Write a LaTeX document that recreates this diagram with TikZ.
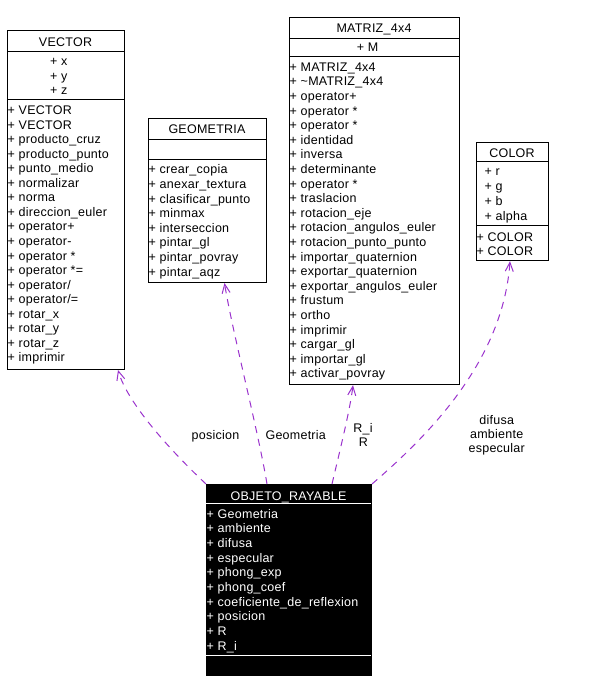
\documentclass[tikz,border=0pt]{standalone}
\usepackage{fontspec}
\setmainfont{Liberation Sans}
\newfontfamily\dfont[LetterSpace=2]{Liberation Sans}
\usetikzlibrary{arrows.meta,calc}
\definecolor{usecol}{HTML}{9A32CD}
\tikzset{
  clsbox/.style={draw=black, line width=1pt, inner sep=0pt, anchor=north west},
  objbox/.style={draw=black, fill=black, line width=1pt, inner sep=0pt, anchor=north west},
  sepline/.style={line width=1pt},
  mtxt/.style={anchor=base west, inner sep=0pt, font=\dfont\fontsize{12.5}{14.6}\selectfont},
  ttxt/.style={anchor=base, inner sep=0pt, font=\dfont\fontsize{12.5}{14.6}\selectfont},
  uses/.style={draw=usecol, line width=1pt, dash pattern=on 7pt off 6pt, -{Straight Barb[length=9pt,width=8pt]}},
  lbl/.style={anchor=base, inner sep=0pt, font=\dfont\fontsize{12.5}{14}\selectfont}
}
\begin{document}
\begin{tikzpicture}[x=1pt,y=-1pt]
\useasboundingbox (0,0) rectangle (588,692);

% ---------- VECTOR ----------
\node[clsbox, minimum width=117pt, minimum height=338.5pt] (vec) at (7,30.5) {};
\node[ttxt] (vect) at (65.5,46.7) {VECTOR};
\draw[sepline] (7,52) -- (124,52);
\foreach \t [count=\i from 0] in {x,y,z}
  \node[mtxt] (veca\i) at (50,{65.5+14.7*\i}) {+ \t};
\draw[sepline] (7,99.8) -- (124,99.8);
\foreach \t [count=\i from 0] in {VECTOR,VECTOR,producto\_cruz,producto\_punto,punto\_medio,normalizar,norma,direccion\_euler,operator+,operator-,operator *,operator *=,operator/,operator/=,rotar\_x,rotar\_y,rotar\_z,imprimir}
  \node[mtxt] (vecm\i) at (7.5,{115+14.5*\i}) {+ \t};

% ---------- GEOMETRIA ----------
\node[clsbox, minimum width=118pt, minimum height=164pt] (geo) at (148,118) {};
\node[ttxt] (geot) at (207,134) {GEOMETRIA};
\draw[sepline] (148,139.7) -- (266,139.7);
\draw[sepline] (148,159.2) -- (266,159.2);
\foreach \t [count=\i from 0] in {crear\_copia,anexar\_textura,clasificar\_punto,minmax,interseccion,pintar\_gl,pintar\_povray,pintar\_aqz}
  \node[mtxt] (geom\i) at (148.5,{174+14.6*\i}) {+ \t};

% ---------- MATRIZ_4x4 ----------
\node[clsbox, minimum width=170pt, minimum height=367.5pt] (mat) at (289,16.7) {};
\node[ttxt] (matt) at (374,32.7) {MATRIZ\_4x4};
\draw[sepline] (289,38.3) -- (459,38.3);
\node[mtxt] (mata0) at (356.7,51.2) {+ M};
\draw[sepline] (289,56.7) -- (459,56.7);
\foreach \t [count=\i from 0] in {MATRIZ\_4x4,\textasciitilde MATRIZ\_4x4,operator+,operator *,operator *,identidad,inversa,determinante,operator *,traslacion,rotacion\_eje,rotacion\_angulos\_euler,rotacion\_punto\_punto,importar\_quaternion,exportar\_quaternion,exportar\_angulos\_euler,frustum,ortho,imprimir,cargar\_gl,importar\_gl,activar\_povray}
  \node[mtxt] (matm\i) at (289.5,{71.3+14.6*\i}) {+ \t};

% ---------- COLOR ----------
\node[clsbox, minimum width=72pt, minimum height=118.5pt] (col) at (476,141.7) {};
\node[ttxt] (colt) at (512,157.2) {COLOR};
\draw[sepline] (476,161.3) -- (548,161.3);
\foreach \t [count=\i from 0] in {r,g,b,alpha}
  \node[mtxt] (cola\i) at (484.5,{176+14.75*\i}) {+ \t};
\draw[sepline] (476,225.3) -- (548,225.3);
\foreach \t [count=\i from 0] in {COLOR,COLOR}
  \node[mtxt] (colm\i) at (476.5,{241+14.8*\i}) {+ \t};

% ---------- OBJETO_RAYABLE ----------
\node[objbox, minimum width=165pt, minimum height=191pt] (obj) at (206,484) {};
\node[ttxt, text=white] (objt) at (288.5,500) {OBJETO\_RAYABLE};
\draw[sepline, white] (206,503.5) -- (371,503.5);
\foreach \t [count=\i from 0] in {Geometria,ambiente,difusa,especular,phong\_exp,phong\_coef,coeficiente\_de\_reflexion,posicion,R,R\_i}
  \node[mtxt, text=white] (obja\i) at (206.5,{518+14.67*\i}) {+ \t};
\draw[sepline, white] (206,655) -- (371,655);

% ---------- usage connectors ----------
\draw[uses] (obj.north west) .. controls (175,455) and (128,405) .. ($(vec.south west)+(111,0)$);
\draw[uses] ($(obj.north west)+(61,0)$) .. controls (258,430) and (232,330) .. ($(geo.south west)+(76.5,0)$);
\draw[uses] ($(obj.north west)+(126,0)$) .. controls (340,450) and (350,410) .. ($(mat.south west)+(64,0)$);
\draw[uses] (obj.north east) .. controls (430,434) and (503,360) .. ($(col.south west)+(34,0)$);

% ---------- labels ----------
\node[lbl] (lpos) at (215.5,439) {posicion};
\node[lbl] (lgeo) at (295.7,439) {Geometria};
\node[lbl] (lri) at (363,432.7) {R\_i};
\node[lbl] (lr) at (363.3,446.7) {R};
\node[lbl] (ldif) at (496.7,424.3) {difusa};
\node[lbl] (lamb) at (496.7,438.3) {ambiente};
\node[lbl] (lesp) at (496.7,452.3) {especular};
\end{tikzpicture}
\end{document}
